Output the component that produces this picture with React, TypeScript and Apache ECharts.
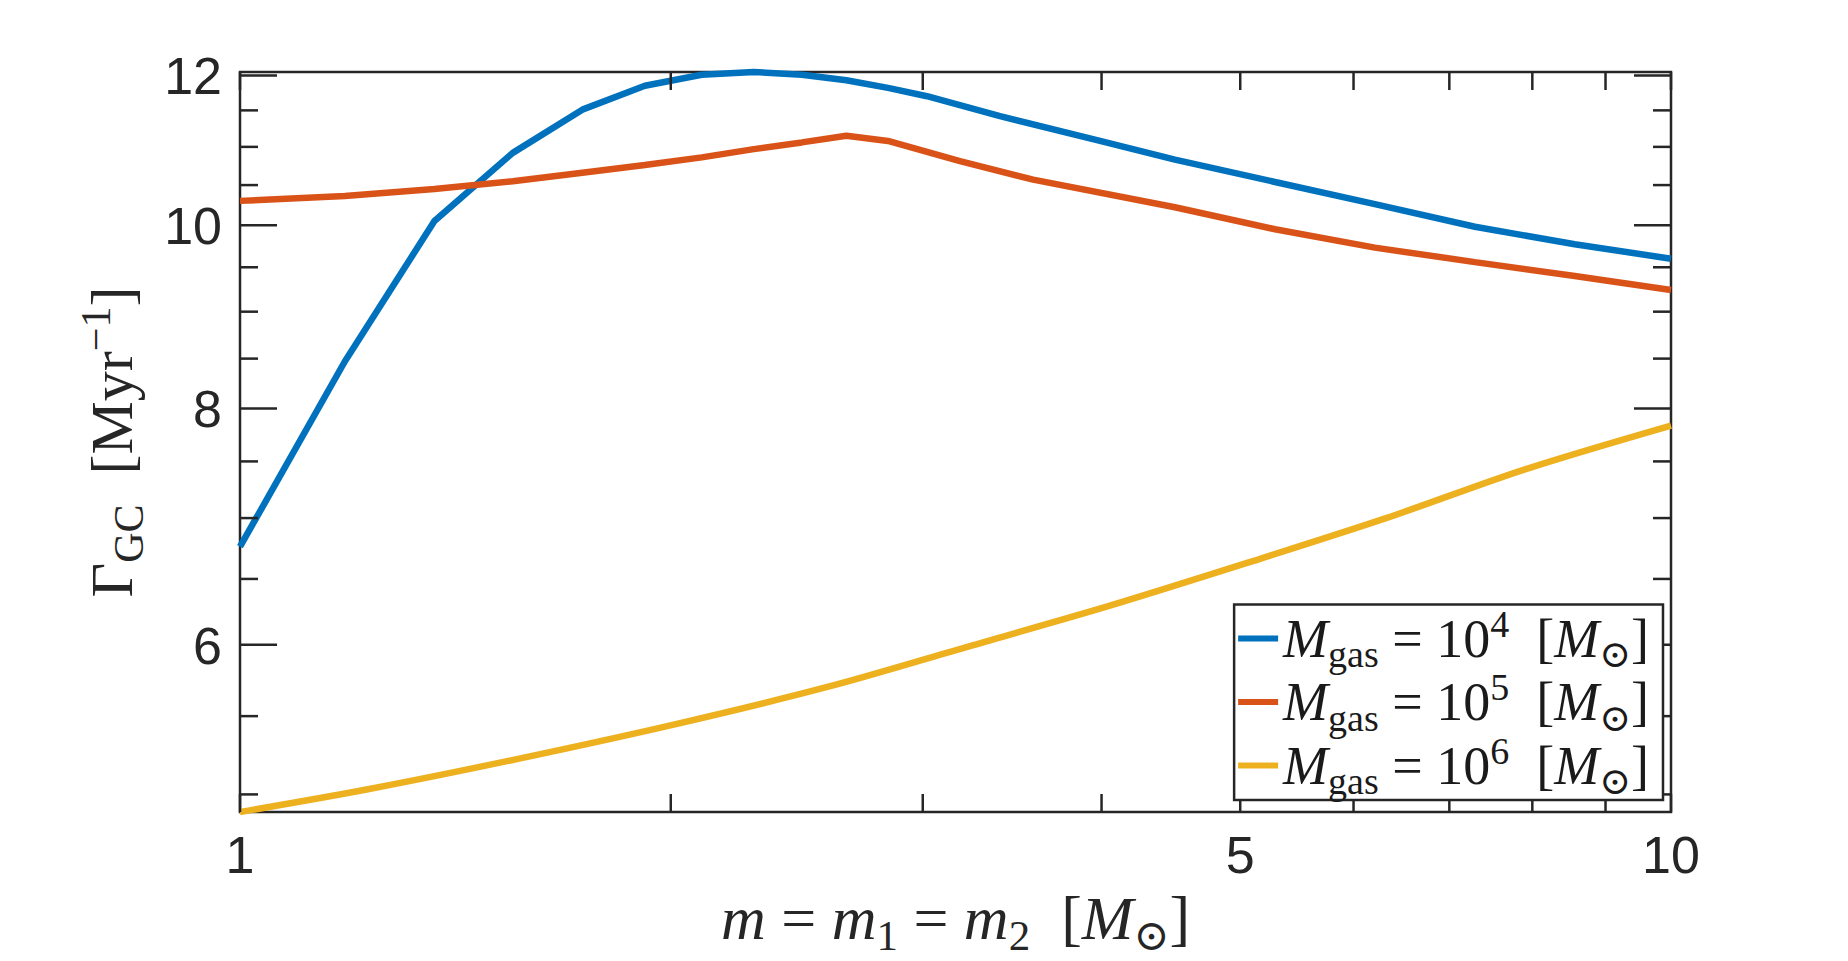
import React, { useEffect, useRef } from "react";
import * as echarts from "echarts";

// ---- axis limits and ticks ----
const X_MIN = 1;
const X_MAX = 10;
const Y_MIN = 4.894;
const Y_MAX = 12.05;

const X_TICKS_MAJOR = [1, 5, 10];
const X_TICK_LABELS = ["1", "5", "10"];
const X_TICKS_MINOR = [2, 3, 4, 6, 7, 8, 9];
const Y_TICKS_MAJOR = [6, 8, 10, 12];
const Y_TICK_LABELS = ["6", "8", "10", "12"];
const Y_TICKS_MINOR = [5, 5.5, 6.5, 7, 7.5, 8.5, 9, 9.5, 10.5, 11, 11.5];

// ---- data: m = m1 = m2 [Msun] vs Gamma_GC [1/Myr] ----
const massBlue = [1, 1.1837, 1.3673, 1.551, 1.7347, 1.9184, 2.102, 2.2857, 2.4694, 2.6531, 2.8367, 3.0204, 3.397, 3.99, 4.501, 5.288, 6.209, 7.294, 8.565, 10];
const rateBlue = [6.76, 8.47, 10.05, 10.92, 11.51, 11.85, 12.01, 12.05, 12.01, 11.93, 11.82, 11.7, 11.42, 11.08, 10.83, 10.54, 10.26, 9.98, 9.77, 9.6];

const massRed = [1, 1.1837, 1.3673, 1.551, 1.7347, 1.9184, 2.102, 2.2857, 2.4694, 2.6531, 2.8367, 3.185, 3.583, 4.501, 5.288, 6.209, 7.294, 8.565, 10];
const rateRed = [10.3, 10.36, 10.45, 10.55, 10.66, 10.76, 10.86, 10.97, 11.06, 11.15, 11.08, 10.81, 10.57, 10.22, 9.95, 9.73, 9.56, 9.4, 9.24];

const massYellow = [1, 1.226, 1.534, 2.006, 2.585, 3.232, 4.043, 5.055, 6.322, 7.906, 10];
const rateYellow = [4.894, 5.03, 5.205, 5.442, 5.704, 5.988, 6.288, 6.628, 6.999, 7.428, 7.835];

const SERIES_NAMES = ["M_gas = 10^4 [M_⊙]", "M_gas = 10^5 [M_⊙]", "M_gas = 10^6 [M_⊙]"];
const GAS_EXPONENTS = ["4", "5", "6"];
const COLORS = ["#0072BD", "#D95319", "#EDB120"];

const AXIS_COLOR = "#262626";
const SERIF = '"Liberation Serif", "DejaVu Serif", serif';
const SANS = '"Liberation Sans", Arial, sans-serif';

function richSet(size: number, color: string, lh: number) {
  const small = Math.round(size * 0.7);
  const subH = Math.max(4, Math.round(lh - size * 0.57));
  const supH = Math.max(4, Math.round(lh - size * 0.55));
  return {
    rm: { fontFamily: SERIF, fontSize: size, lineHeight: lh, color },
    it: { fontFamily: SERIF, fontStyle: "italic", fontSize: size, lineHeight: lh, color },
    sub: { fontFamily: SERIF, fontSize: small, height: subH, lineHeight: subH, verticalAlign: "bottom", color },
    sup: { fontFamily: SERIF, fontSize: small, height: supH, lineHeight: supH, verticalAlign: "top", color },
  };
}

function pairs(xs: number[], ys: number[]) {
  return xs.map((x, i) => [x, ys[i]]);
}

export default function App() {
  const ref = useRef<HTMLDivElement>(null);

  useEffect(() => {
    document.body.style.margin = "0";
    if (!ref.current) return;
    const chart = echarts.init(ref.current, undefined, { renderer: "svg" });

    const yTickData = [
      ...Y_TICKS_MAJOR.map((v, i) => [X_MIN, v, 1, i]),
      ...Y_TICKS_MINOR.map((v) => [X_MIN, v, 0, -1]),
    ];
    const xTickData = [
      ...X_TICKS_MAJOR.map((v, i) => [v, Y_MIN, 1, i]),
      ...X_TICKS_MINOR.map((v) => [v, Y_MIN, 0, -1]),
    ];

    const lineSeries = [
      pairs(massBlue, rateBlue),
      pairs(massRed, rateRed),
      pairs(massYellow, rateYellow),
    ].map((data, i) => ({
      name: SERIES_NAMES[i],
      type: "line",
      data,
      showSymbol: false,
      symbol: "none",
      clip: false,
      smooth: i === 2 ? 0.3 : false,
      z: 3,
      color: COLORS[i],
      lineStyle: { width: 6.5, color: COLORS[i] },
    }));

    const option: any = {
      animation: false,
      backgroundColor: "#ffffff",
      grid: {
        left: 240,
        right: 177,
        top: 72,
        bottom: 149,
        show: true,
        borderColor: AXIS_COLOR,
        borderWidth: 2.5,
        backgroundColor: "#ffffff",
        containLabel: false,
        outerBoundsMode: "none",
      },
      xAxis: {
        type: "log",
        logBase: 10,
        min: X_MIN,
        max: X_MAX,
        axisLine: { show: false },
        axisTick: { show: false },
        axisLabel: { show: false },
        splitLine: { show: false },
        name: "{it|m}{rm| = }{it|m}{sub|1}{rm| = }{it|m}{sub|2}{rm|  [}{it|M}{sub|⊙}{rm|]}",
        nameLocation: "middle",
        nameGap: 72,
        nameTextStyle: { fontFamily: SERIF, fontSize: 62, lineHeight: 68, color: AXIS_COLOR, rich: richSet(62, AXIS_COLOR, 68) },
      },
      yAxis: {
        type: "log",
        logBase: 10,
        min: Y_MIN,
        max: Y_MAX,
        axisLine: { show: false },
        axisTick: { show: false },
        axisLabel: { show: false },
        splitLine: { show: false },
        name: "{rm|Γ}{sub|GC}{rm|  [Myr}{sup|−1}{rm|]}",
        nameLocation: "middle",
        nameRotate: 90,
        nameGap: 94,
        nameTextStyle: { fontFamily: SERIF, fontSize: 60, lineHeight: 68, color: AXIS_COLOR, rich: richSet(60, AXIS_COLOR, 68) },
      },
      legend: {
        data: SERIES_NAMES,
        orient: "vertical",
        right: 185,
        bottom: 161,
        icon: "rect",
        itemWidth: 40,
        itemHeight: 6,
        itemGap: -5,
        padding: [0, 14, 0, 4],
        borderColor: AXIS_COLOR,
        borderWidth: 2.5,
        backgroundColor: "#ffffff",
        selectedMode: false,
        z: 10,
        formatter: (name: string) => {
          const i = SERIES_NAMES.indexOf(name);
          return `{it|M}{sub|gas}{rm| = 10}{sup|${GAS_EXPONENTS[i]}}{rm|  [}{it|M}{sub|⊙}{rm|]}`;
        },
        textStyle: { fontFamily: SERIF, fontSize: 54, lineHeight: 56, color: "#1a1a1a", rich: richSet(54, "#1a1a1a", 56) },
      },
      series: [
        ...lineSeries,
        {
          type: "custom",
          name: "yTicks",
          clip: false,
          silent: true,
          z: 4,
          data: yTickData,
          renderItem: (_params: any, api: any) => {
            const v = api.value(1);
            const major = api.value(2) === 1;
            const li = api.value(3);
            const pl = api.coord([X_MIN, v]);
            const pr = api.coord([X_MAX, v]);
            const len = major ? 37 : 18;
            const st = { stroke: AXIS_COLOR, lineWidth: 2.5 };
            const children: any[] = [
              { type: "line", shape: { x1: pl[0], y1: pl[1], x2: pl[0] + len, y2: pl[1] }, style: st },
              { type: "line", shape: { x1: pr[0] - len, y1: pr[1], x2: pr[0], y2: pr[1] }, style: st },
            ];
            if (major && li >= 0) {
              children.push({
                type: "text",
                x: pl[0] - 18,
                y: pl[1] + 1,
                style: {
                  text: Y_TICK_LABELS[li],
                  fill: AXIS_COLOR,
                  fontFamily: SANS,
                  fontSize: 52,
                  align: "right",
                  verticalAlign: "middle",
                },
              });
            }
            return { type: "group", children };
          },
        },
        {
          type: "custom",
          name: "xTicks",
          clip: false,
          silent: true,
          z: 4,
          data: xTickData,
          renderItem: (_params: any, api: any) => {
            const v = api.value(0);
            const major = api.value(2) === 1;
            const li = api.value(3);
            const pb = api.coord([v, Y_MIN]);
            const pt = api.coord([v, Y_MAX]);
            const len = 18;
            const st = { stroke: AXIS_COLOR, lineWidth: 2.5 };
            const children: any[] = [
              { type: "line", shape: { x1: pb[0], y1: pb[1], x2: pb[0], y2: pb[1] - len }, style: st },
              { type: "line", shape: { x1: pt[0], y1: pt[1], x2: pt[0], y2: pt[1] + len }, style: st },
            ];
            if (major && li >= 0) {
              children.push({
                type: "text",
                x: pb[0],
                y: pb[1] + 43,
                style: {
                  text: X_TICK_LABELS[li],
                  fill: AXIS_COLOR,
                  fontFamily: SANS,
                  fontSize: 52,
                  align: "center",
                  verticalAlign: "middle",
                },
              });
            }
            return { type: "group", children };
          },
        },
      ],
    };

    chart.setOption(option);
    return () => {
      chart.dispose();
    };
  }, []);

  return <div ref={ref} style={{ width: 1848, height: 961 }} />;
}
